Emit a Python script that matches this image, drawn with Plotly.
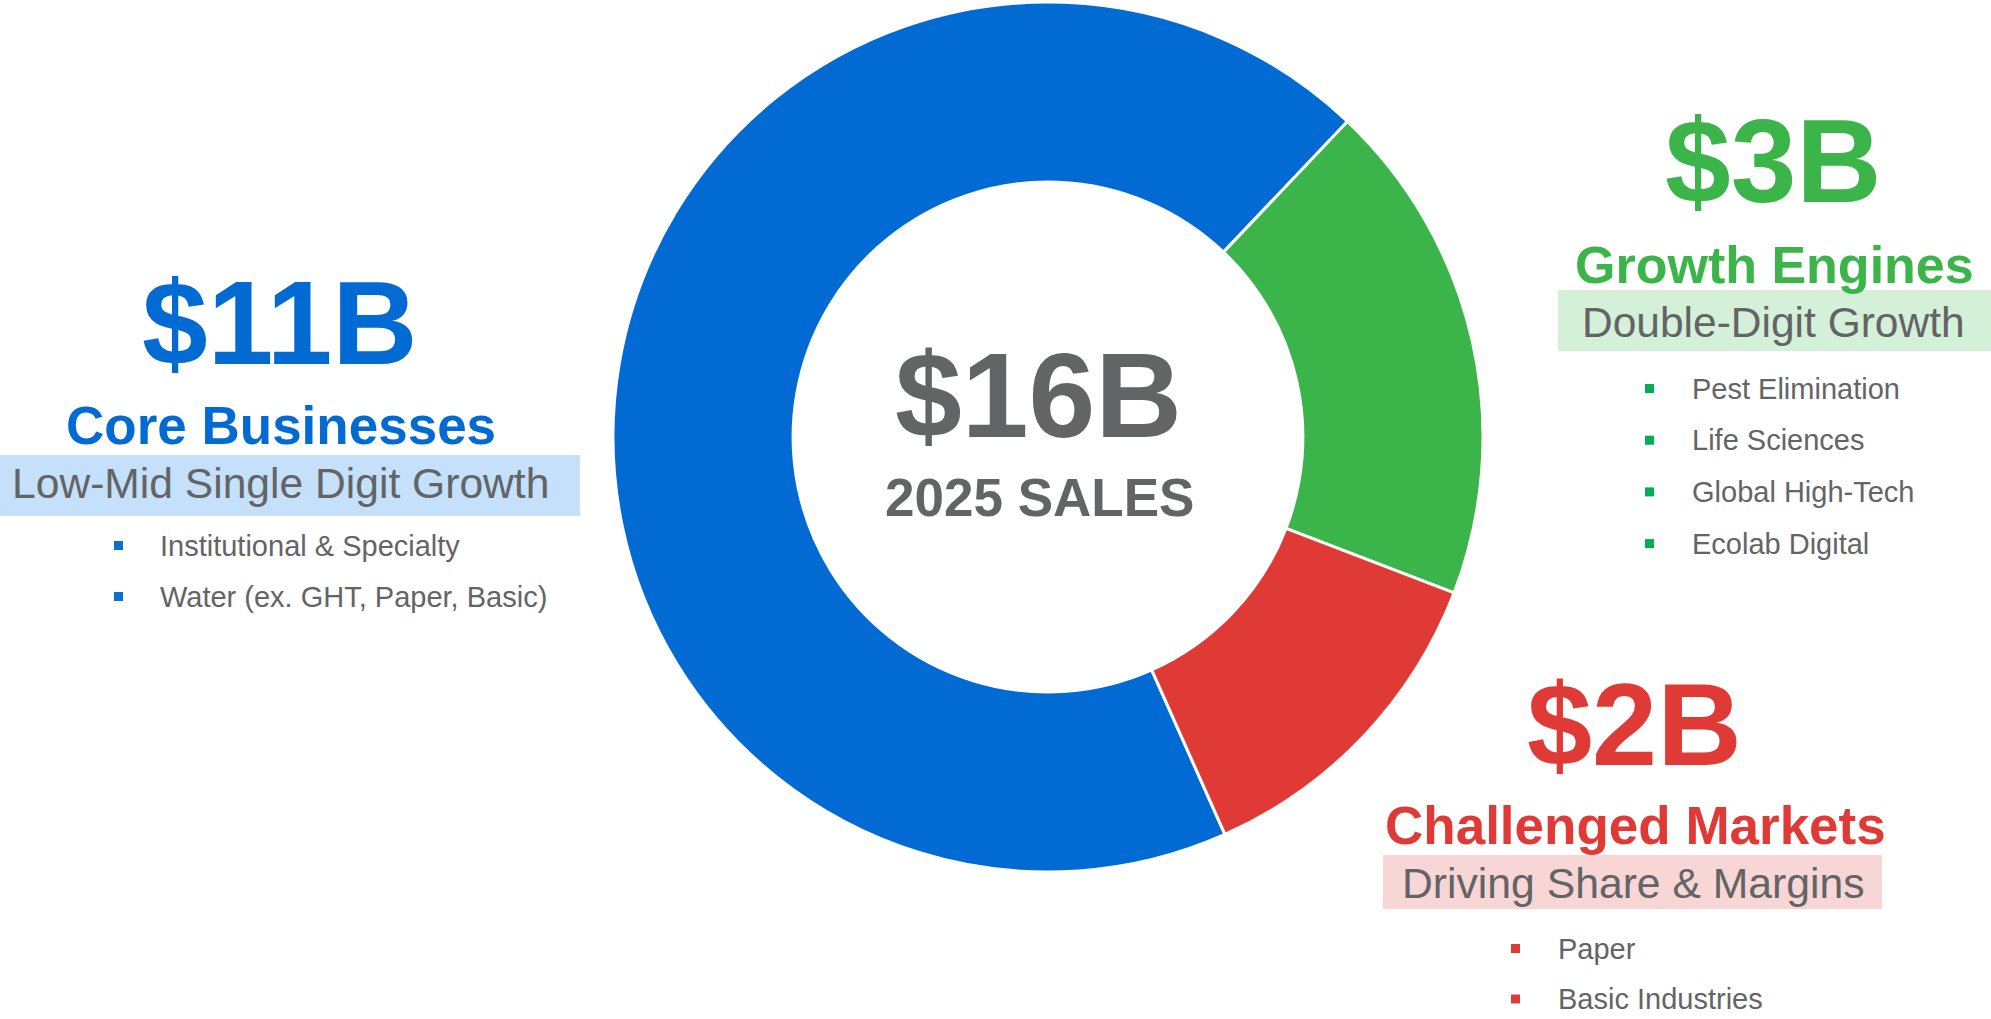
import plotly.graph_objects as go

# ---------------- data ----------------
segments = ["Core Businesses", "Growth Engines", "Challenged Markets"]
sales_b = [11, 3, 2]
total_label = "$16B"
total_caption = "2025 SALES"
subtitles = ["Low-Mid Single Digit Growth", "Double-Digit Growth", "Driving Share & Margins"]
core_items = ["Institutional & Specialty", "Water (ex. GHT, Paper, Basic)"]
growth_items = ["Pest Elimination", "Life Sciences", "Global High-Tech", "Ecolab Digital"]
challenged_items = ["Paper", "Basic Industries"]

# ---------------- style ----------------
W, H = 1991, 1019
FONT = "Liberation Sans"
GRAY = "#636466"
slice_colors = ["#016BD3", "#3BB44A", "#E03A37"]
band_colors = ["#C5E0FA", "#D5F0D9", "#F8D6D6"]
bullet_colors = ["#0A6FD0", "#00B050", "#E03A37"]


def px(x):
    return x / W


def py(y):
    return 1 - y / H


fig = go.Figure()
fig.add_trace(go.Pie(
    labels=segments,
    values=sales_b,
    sort=False,
    direction="clockwise",
    rotation=156,
    hole=0.586,
    marker=dict(colors=slice_colors, line=dict(color="white", width=3)),
    textinfo="none",
    hoverinfo="label+value",
    showlegend=False,
    domain=dict(x=[px(613), px(1483)], y=[py(872), py(2)]),
))

annotations = []
shapes = []


def text(x, y, s, size, color, bold=False, anchor="center"):
    annotations.append(dict(
        x=px(x), y=py(y), xref="paper", yref="paper", text=("<b>%s</b>" % s) if bold else s,
        showarrow=False, xanchor=anchor, yanchor="middle",
        font=dict(family=FONT, size=size, color=color), borderpad=0,
    ))


def band(x0, y0, x1, y1, color):
    shapes.append(dict(type="rect", xref="paper", yref="paper", x0=px(x0), x1=px(x1),
                       y0=py(y1), y1=py(y0), fillcolor=color, line=dict(width=0), layer="below"))


def bullet_list(items, bx, tx, y_first, step, color):
    for i, it in enumerate(items):
        yc = y_first + i * step
        shapes.append(dict(type="rect", xref="paper", yref="paper", x0=px(bx), x1=px(bx + 9),
                           y0=py(yc + 4.5), y1=py(yc - 4.5), fillcolor=color, line=dict(width=0)))
        text(tx, yc, it, 29, GRAY, anchor="left")


# centre
text(1038, 395, total_label, 120, GRAY, bold=True)
text(1039, 497.5, total_caption, 53, GRAY, bold=True)

# Core businesses (left)
text(280, 323.5, "$%dB" % sales_b[0], 118, slice_colors[0], bold=True)
text(281, 425.5, segments[0], 53, slice_colors[0], bold=True)
band(0, 455, 580, 516, band_colors[0])
text(280, 483, subtitles[0], 42.6, GRAY)
bullet_list(core_items, 114, 159, 545.5, 51, bullet_colors[0])

# Growth engines (top right)
text(1773, 161.5, "$%dB" % sales_b[1], 118, slice_colors[1], bold=True)
text(1774.5, 265, segments[1], 52, slice_colors[1], bold=True)
band(1558, 290, 1991, 351, band_colors[1])
text(1773, 322, subtitles[1], 42.5, GRAY)
bullet_list(growth_items, 1645, 1691, 388.5, 51.7, bullet_colors[1])

# Challenged markets (bottom right)
text(1634, 724, "$%dB" % sales_b[2], 117, slice_colors[2], bold=True)
text(1635, 825.5, segments[2], 53, slice_colors[2], bold=True)
band(1383, 855, 1882, 909, band_colors[2])
text(1633, 882.5, subtitles[2], 42.7, GRAY)
bullet_list(challenged_items, 1511, 1557, 948.5, 50.5, bullet_colors[2])

fig.update_layout(
    width=W, height=H, autosize=False,
    margin=dict(l=0, r=0, t=0, b=0),
    paper_bgcolor="white", plot_bgcolor="white",
    annotations=annotations, shapes=shapes,
)

fig.write_html("out.html", config={"displayModeBar": False},
               post_script="document.body.style.margin='0';document.body.style.overflow='hidden';")
